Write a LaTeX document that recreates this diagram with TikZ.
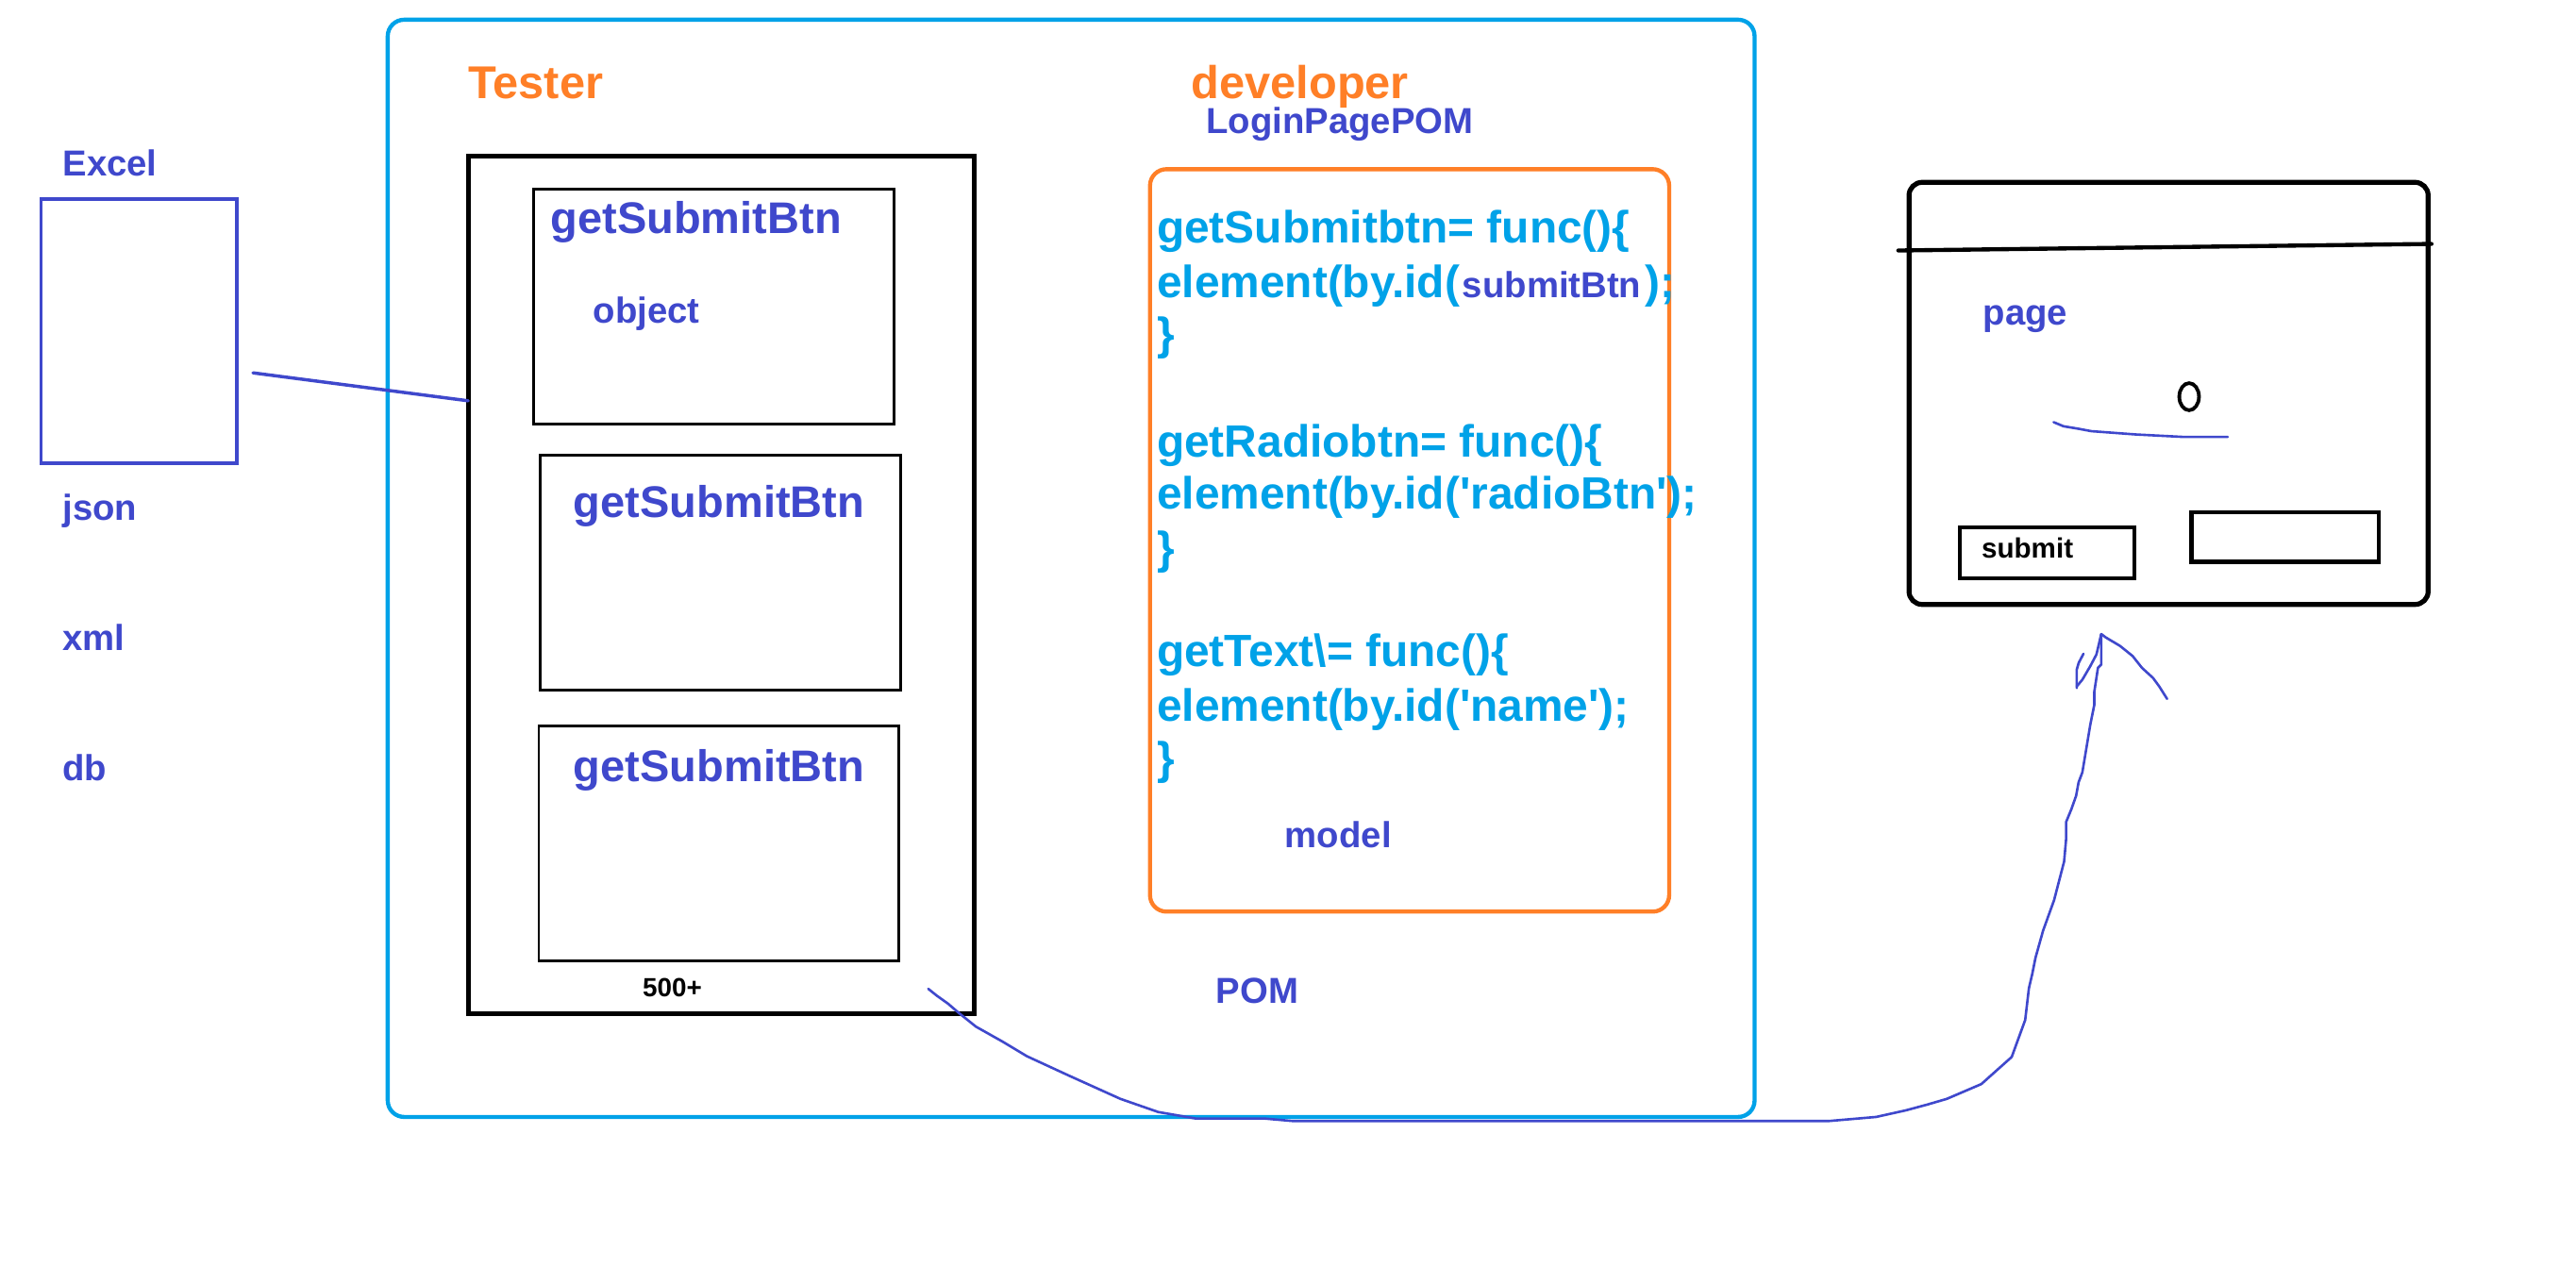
\documentclass[tikz,border=0pt]{standalone}
\usepackage{fontspec}
\setmainfont{Liberation Sans}[Ligatures=TeXOff]
\usetikzlibrary{calc,shapes.geometric}
\definecolor{cy}{HTML}{00A2E8}
\definecolor{orn}{HTML}{FF7F27}
\definecolor{ind}{HTML}{3F48CC}
\newcommand\fsz[1]{\fontsize{#1}{#1}\selectfont}
\begin{document}
\begin{tikzpicture}[x=1pt,y=-1pt,
  box/.style={draw, inner sep=0pt, outer sep=0pt, anchor=north west},
  hd/.style={inner sep=0pt, anchor=base west, font=\bfseries\fsz{28}, text=orn},
  lab/.style={inner sep=0pt, anchor=base west, font=\bfseries\fsz{22}, text=ind},
  gsb/.style={inner sep=0pt, anchor=base west, font=\bfseries\fsz{27}, text=ind},
  code/.style={inner sep=0pt, anchor=base west, font=\bfseries\fsz{27.5}, text=cy},
  blk/.style={inner sep=0pt, anchor=base west, text=black},
  pen/.style={draw=ind, line width=1.5pt, line join=round, line cap=round}
]
\fill[white] (0,0) rectangle (1568,771);
\useasboundingbox (0,0) rectangle (1568,771);

% outer panel
\node[box, draw=cy, line width=2.5pt, rounded corners=10pt,
  minimum width=832pt, minimum height=668pt] (panel) at (236,12) {};

% headings
\node[hd] (tester) at (285,60) {Tester};
\node[hd] (dev) at (725,60) {developer};
\node[lab] (lpp) at (734,81) {LoginPagePOM};

% tester container and object boxes
\node[box, line width=3pt, minimum width=308pt, minimum height=522pt] (tbox) at (285,95) {};
\node[box, line width=1.6pt, minimum width=219pt, minimum height=143pt] (ob1) at (325,115) {};
\node[box, line width=1.6pt, minimum width=219pt, minimum height=143pt] (ob2) at (329,277) {};
\node[box, line width=1.6pt, minimum width=219pt, minimum height=143pt] (ob3) at (328,442) {};
\node[gsb] (g1) at (335,142) {getSubmitBtn};
\node[lab] (obj) at (361,197) {object};
\node[gsb] (g2) at (349,315) {getSubmitBtn};
\node[gsb] (g3) at (349,476) {getSubmitBtn};
\node[blk, font=\bfseries\fsz{16}] (n500) at (391,607) {500+};

% developer model box
\node[box, draw=orn, line width=2.5pt, rounded corners=10pt,
  minimum width=316pt, minimum height=452pt] (model) at (700,103) {};
\node[code] (c1) at (704,148) {getSubmitbtn= func()\{};
\node[code] (c2a) at (704,181) {element(by.id(};
\node[lab] (c2b) at (890,181) {submitBtn};
\node[code] (c2c) at (1001,181) {);};
\node[code] (c3) at (704,213) {\}};
\node[code] (c4) at (704,278) {getRadiobtn= func()\{};
\node[code] (c5) at (704,310) {element(by.id('radioBtn');};
\node[code] (c6) at (704,343) {\}};
\node[code] (c7) at (704,406) {getText\textbackslash= func()\{};
\node[code] (c8) at (704,439) {element(by.id('name');};
\node[code] (c9) at (704,471) {\}};
\node[lab] (mdl) at (782,516) {model};
\node[lab] (pom) at (740,611) {POM};

% data sources
\node[lab] (excel) at (38,107) {Excel};
\node[box, draw=ind, line width=2.2pt, minimum width=119pt, minimum height=161pt] (xbox) at (25,121) {};
\node[lab] (json) at (38,317) {json};
\node[lab] (xml) at (38,396) {xml};
\node[lab] (db) at (38,475) {db};
\coordinate (xs) at (154,227);
\draw[ind, line width=2pt, line cap=round] (xs) -- ($(tbox.north west)+(0,149)$);

% page mock-up
\node[box, line width=3pt, rounded corners=8pt, minimum width=316pt, minimum height=257pt] (page) at (1162,111) {};
\coordinate (hl) at (1155.5,152.5);
\coordinate (hr) at (1480,148.5);
\draw[line width=2.5pt, line cap=round] (hl) -- (hr);
\node[lab] (pg) at (1207,198) {page};
\node[draw, line width=2.2pt, ellipse, minimum width=12pt, minimum height=16.5pt, inner sep=0pt] (oh) at (1332.5,241.5) {};
\draw[pen] (1250,257) -- (1256,259.5) -- (1265,261) -- (1273,262.5) -- (1300,264.5) -- (1329,266) -- (1356,266);
\node[box, line width=2.5pt, minimum width=106pt, minimum height=31pt] (sub) at (1193,321) {};
\node[blk, font=\bfseries\fsz{17}] (subt) at (1206,340) {submit};
\node[box, line width=2.5pt, minimum width=114pt, minimum height=30pt] (inp) at (1334,312) {};

% hand-drawn arrow from tester container to page
\coordinate (cs) at (565,602);
\coordinate (tip) at (1279,386);
\draw[pen] (cs) -- (570,606) -- (577,611) -- (584,617) -- (594,625) -- (610,634)
  -- (625,643) -- (651,655) -- (682,669) -- (705,677) -- (728,681) -- (770,681)
  -- (787,682.5) -- (1113,682.5) -- (1142,680) -- (1160,676) -- (1173,672.5)
  -- (1185,669) -- (1206,660) -- (1224.5,643.5) -- (1232.7,621) -- (1235,601.5)
  -- (1237,593) -- (1239,583) -- (1243.6,566.6) -- (1250.3,548) -- (1256.4,524.5)
  -- (1257.6,511) -- (1257.6,500.5) -- (1260.8,492.7) -- (1263.7,484.5)
  -- (1265.2,476.3) -- (1267.5,470.2) -- (1272.3,441.4) -- (1274.8,429)
  -- (1274.8,421) -- (1277,406.6) -- (1279,404.6) -- (tip);
\draw[pen] (tip) -- (1276.1,398.4) -- (1272.3,405.6) -- (1267.5,413.8) -- (1264.1,417.9);
\draw[pen] (1268.2,398) -- (1265.3,403.5) -- (1264.1,407.6) -- (1264.1,418.9);
\draw[pen] (tip) -- (1281.8,388.1) -- (1290.4,393.2) -- (1298.1,399.4) -- (1303.8,406.6)
  -- (1310.5,412.7) -- (1314.3,417.9) -- (1319.1,425.5);
\end{tikzpicture}
\end{document}
